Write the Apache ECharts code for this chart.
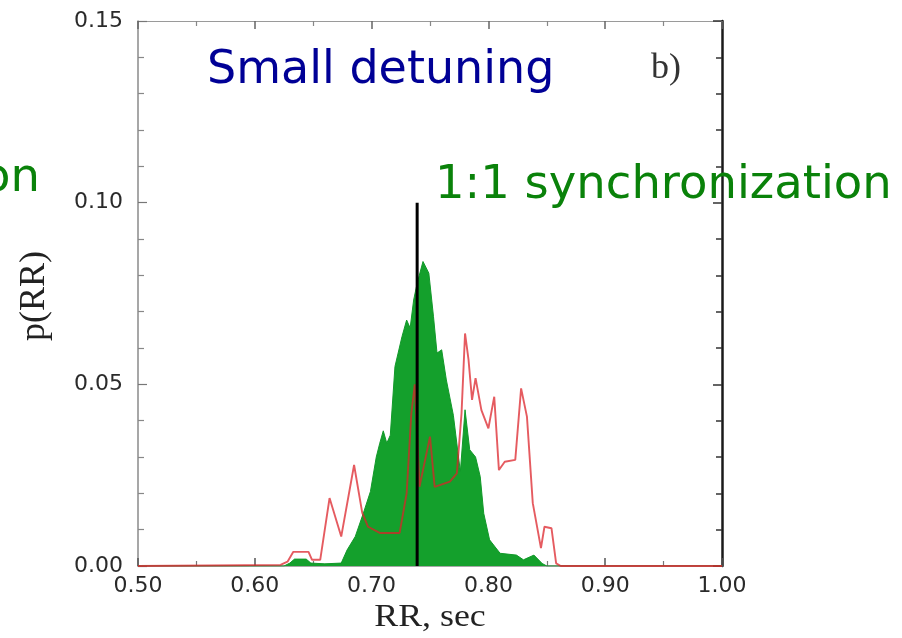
<!DOCTYPE html>
<html>
<head>
<meta charset="utf-8">
<script src="https://cdn.jsdelivr.net/npm/echarts@6/dist/echarts.min.js"></script>
<style>
  html, body { margin: 0; padding: 0; background: #ffffff; }
  #chart { width: 902px; height: 638px; }
</style>
</head>
<body>
<div id="chart"></div>
<script>
// Tick labels
const xTickLabels = ['0.50', '0.60', '0.70', '0.80', '0.90', '1.00'];
const yTickLabels = ['0.00', '0.05', '0.10', '0.15'];

// RR-interval distribution in the synchronized regime (filled)
const syncRR = [0.500, 0.625, 0.630, 0.634, 0.644, 0.648, 0.660, 0.674, 0.679, 0.686, 0.693, 0.699,
                0.704, 0.707, 0.710, 0.713, 0.716, 0.720, 0.726, 0.730, 0.733, 0.736, 0.739, 0.744,
                0.749, 0.753, 0.756, 0.760, 0.764, 0.770, 0.774, 0.776, 0.780, 0.784, 0.789, 0.793,
                0.796, 0.801, 0.810, 0.824, 0.830, 0.839, 0.846, 0.850, 1.000];
const syncP  = [0.0000, 0.0000, 0.0008, 0.0019, 0.0019, 0.0008, 0.0006, 0.0008, 0.0044, 0.0081, 0.0146, 0.0205,
                0.0300, 0.0338, 0.0372, 0.0338, 0.0360, 0.0549, 0.0631, 0.0677, 0.0655, 0.0732, 0.0778, 0.0838,
                0.0806, 0.0686, 0.0586, 0.0595, 0.0512, 0.0415, 0.0310, 0.0260, 0.0430, 0.0320, 0.0300, 0.0246,
                0.0145, 0.0072, 0.0035, 0.0030, 0.0017, 0.0030, 0.0007, 0.0000, 0.0000];

// RR-interval distribution with small detuning (line)
const detunedRR = [0.500, 0.622, 0.628, 0.633, 0.646, 0.649, 0.656, 0.664, 0.674, 0.685, 0.692, 0.697,
                   0.707, 0.724, 0.730, 0.734, 0.737, 0.741, 0.750, 0.754, 0.767, 0.773, 0.777, 0.780,
                   0.783, 0.786, 0.789, 0.794, 0.800, 0.805, 0.809, 0.814, 0.823, 0.828, 0.833, 0.838,
                   0.845, 0.848, 0.854, 0.858, 0.862, 1.000];
const detunedP  = [0.0000, 0.0003, 0.0012, 0.0039, 0.0039, 0.0017, 0.0017, 0.0187, 0.0081, 0.0278, 0.0146, 0.0108,
                   0.0091, 0.0091, 0.0200, 0.0420, 0.0500, 0.0218, 0.0356, 0.0218, 0.0232, 0.0255, 0.0420, 0.0640,
                   0.0567, 0.0457, 0.0517, 0.0429, 0.0379, 0.0466, 0.0264, 0.0287, 0.0292, 0.0489, 0.0411, 0.0173,
                   0.0049, 0.0108, 0.0104, 0.0007, 0.0000, 0.0000];

// Vertical marker at the synchronized RR value
const markerRR = [0.739, 0.739];
const markerP  = [0.000, 0.100];

const zip = (xs, ys) => xs.map((x, i) => [x, ys[i]]);

const chart = echarts.init(document.getElementById('chart'), null, { renderer: 'canvas' });

const tickFont = { fontFamily: 'DejaVu Sans', fontSize: 22, color: '#2a2a2a' };

const option = {
  animation: false,
  backgroundColor: '#ffffff',
  grid: { left: 138, top: 21, width: 584, height: 545, containLabel: false },
  xAxis: [
    {
      type: 'value', position: 'bottom', min: 0.5, max: 1.0, interval: 0.1,
      axisLine: { show: true, onZero: false, lineStyle: { color: '#8a8a8a', width: 1.5 } },
      axisTick: { show: true, inside: true, length: 8, lineStyle: { color: '#555555', width: 1.5 } },
      minorTick: { show: true, splitNumber: 2, length: 5, lineStyle: { color: '#777777', width: 1.2 } },
      splitLine: { show: false }, minorSplitLine: { show: false },
      axisLabel: Object.assign({ margin: 9, formatter: v => xTickLabels[Math.round((v - 0.5) / 0.1)] }, tickFont)
    },
    {
      type: 'value', position: 'top', min: 0.5, max: 1.0, interval: 0.1,
      axisLine: { show: true, onZero: false, lineStyle: { color: '#9a9a9a', width: 1.2 } },
      axisTick: { show: true, inside: true, length: 8, lineStyle: { color: '#666666', width: 1.5 } },
      minorTick: { show: true, splitNumber: 2, length: 5, lineStyle: { color: '#888888', width: 1.2 } },
      splitLine: { show: false }, minorSplitLine: { show: false },
      axisLabel: { show: false }
    }
  ],
  yAxis: [
    {
      type: 'value', position: 'left', min: 0, max: 0.15, interval: 0.05,
      axisLine: { show: true, onZero: false, lineStyle: { color: '#8a8a8a', width: 1.5 } },
      axisTick: { show: true, inside: true, length: 9, lineStyle: { color: '#777777', width: 1.2 } },
      minorTick: { show: true, splitNumber: 5, length: 6, lineStyle: { color: '#888888', width: 1.2 } },
      splitLine: { show: false }, minorSplitLine: { show: false },
      axisLabel: Object.assign({ margin: 15, formatter: v => yTickLabels[Math.round(v / 0.05)] }, tickFont)
    },
    {
      type: 'value', position: 'right', min: 0, max: 0.15, interval: 0.05,
      axisLine: { show: true, onZero: false, lineStyle: { color: '#1a1a1a', width: 2.5 } },
      axisTick: { show: true, inside: true, length: 9, lineStyle: { color: '#333333', width: 1.5 } },
      minorTick: { show: true, splitNumber: 5, length: 6, lineStyle: { color: '#333333', width: 1.5 } },
      splitLine: { show: false }, minorSplitLine: { show: false },
      axisLabel: { show: false }
    }
  ],
  series: [
    {
      name: 'synchronized', type: 'line', xAxisIndex: 0, yAxisIndex: 0,
      data: zip(syncRR, syncP), showSymbol: false, symbol: 'none', z: 2,
      lineStyle: { color: '#12992a', width: 1 },
      areaStyle: { color: '#14a02c', opacity: 1 }
    },
    {
      name: 'detuned', type: 'line', xAxisIndex: 0, yAxisIndex: 0,
      data: zip(detunedRR, detunedP), showSymbol: false, symbol: 'none', z: 3,
      lineStyle: { color: '#dc2228', width: 1.9, opacity: 0.74 }
    },
    {
      name: 'marker', type: 'line', xAxisIndex: 0, yAxisIndex: 0,
      data: zip(markerRR, markerP), showSymbol: false, symbol: 'none', z: 4,
      lineStyle: { color: '#000000', width: 3 }
    }
  ],
  graphic: [
    {
      type: 'text', x: 207, y: 71, z: 10,
      style: { text: 'Small detuning', fontFamily: 'DejaVu Sans', fontSize: 46, fill: '#000096',
               align: 'left', verticalAlign: 'middle', textAlign: 'left', textVerticalAlign: 'middle' }
    },
    {
      type: 'text', x: 435, y: 186, z: 10,
      style: { text: '1:1 synchronization', fontFamily: 'DejaVu Sans', fontSize: 46.5, fill: '#0a820a',
               align: 'left', verticalAlign: 'middle', textAlign: 'left', textVerticalAlign: 'middle' }
    },
    {
      type: 'text', x: 40, y: 179, z: 10,
      style: { text: 'on', fontFamily: 'DejaVu Sans', fontSize: 46.5, fill: '#0a820a',
               align: 'right', verticalAlign: 'middle', textAlign: 'right', textVerticalAlign: 'middle' }
    },
    {
      type: 'text', x: 651, y: 69, z: 10,
      style: { text: 'b)', fontFamily: 'Liberation Serif', fontSize: 36, fill: '#333333',
               align: 'left', verticalAlign: 'middle', textAlign: 'left', textVerticalAlign: 'middle' }
    },
    {
      type: 'text', x: 35, y: 296, rotation: Math.PI / 2, z: 10,
      style: { text: 'p(RR)', fontFamily: 'Liberation Serif', fontSize: 36, fill: '#222222',
               align: 'center', verticalAlign: 'middle', textAlign: 'center', textVerticalAlign: 'middle' }
    },
    {
      type: 'text', x: 430, y: 618, scaleX: 1.12, z: 10,
      style: { text: 'RR, sec', fontFamily: 'Liberation Serif', fontSize: 32, fill: '#222222',
               align: 'center', verticalAlign: 'middle', textAlign: 'center', textVerticalAlign: 'middle' }
    }
  ]
};

chart.setOption(option);
</script>
</body>
</html>
